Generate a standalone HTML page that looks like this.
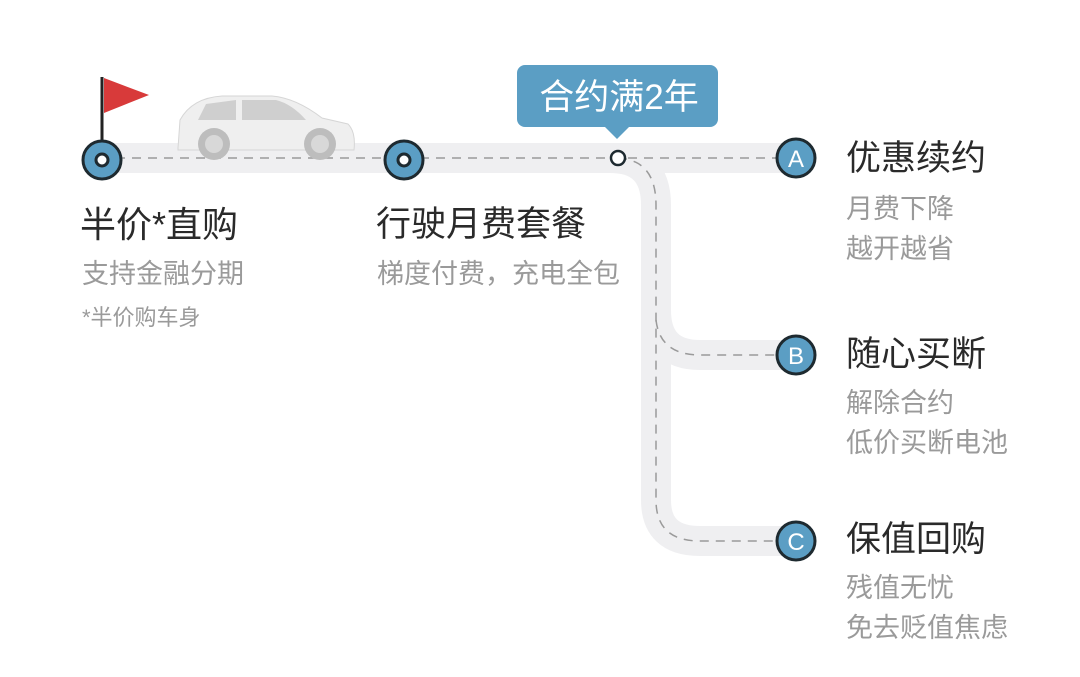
<!DOCTYPE html>
<html><head><meta charset="utf-8"><style>
body{margin:0;background:#fff;}
.w{position:relative;width:1080px;height:677px;overflow:hidden;font-family:"Liberation Sans","Noto Sans CJK SC",sans-serif;}
.t{position:absolute;color:#2a2a2a;font-size:35px;line-height:1;white-space:nowrap;}
.s{position:absolute;color:#9a9a9a;font-size:27px;line-height:1;white-space:nowrap;}
</style></head><body><div class="w">
<svg width="1080" height="677" style="position:absolute;left:0;top:0">
<g fill="none" stroke="#efeff1" stroke-width="30">
<path d="M100 158 H796"/>
<path d="M610 158 Q656 158 656 205 V500 Q656 541 700 541 H796"/>
<path d="M656 310 Q656 355 700 355 H796"/>
</g>
<g fill="none" stroke="#9a9a9a" stroke-width="1.5" stroke-dasharray="9 7">
<path d="M100 158 H796"/>
<path d="M618 158 Q656 160 656 205 V500 Q656 541 700 541 H796"/>
<path d="M656 320 Q660 355 700 355 H796"/>
</g>
<!-- car -->
<g>
<path d="M178 148 L180 120 Q192 98 222 96 L272 96 Q296 98 322 118 L348 124 Q356 132 354 150 L178 150 Z" fill="#efefef" stroke="#d6d6d6"/>
<path d="M206 104 L236 100 L236 120 L198 120 Z M242 100 L276 100 Q292 104 306 120 L242 120 Z" fill="#cfcfcf"/>
<circle cx="214" cy="144" r="16" fill="#bdbdbd"/><circle cx="214" cy="144" r="9" fill="#d8d8d8"/>
<circle cx="320" cy="144" r="16" fill="#bdbdbd"/><circle cx="320" cy="144" r="9" fill="#d8d8d8"/>
</g>
<!-- flag -->
<line x1="102" y1="77" x2="102" y2="142" stroke="#222" stroke-width="3"/>
<path d="M104 78 L149 95 L104 113 Z" fill="#d83a3a"/>
<g stroke="#1e2a30" stroke-width="3">
<circle cx="102" cy="160" r="19" fill="#5b9ec4"/><circle cx="102" cy="160" r="6" fill="#fff"/>
<circle cx="404" cy="160" r="19" fill="#5b9ec4"/><circle cx="404" cy="160" r="6" fill="#fff"/>
<circle cx="618" cy="158" r="7" fill="#fff" stroke-width="2.5"/>
<circle cx="796" cy="158" r="19" fill="#5b9ec4"/>
<circle cx="796" cy="355" r="19" fill="#5b9ec4"/>
<circle cx="796" cy="541" r="19" fill="#5b9ec4"/>
</g>
<g fill="#fff" font-family="Liberation Sans,sans-serif" font-size="24" text-anchor="middle">
<text x="796" y="167">A</text><text x="796" y="364">B</text><text x="796" y="550">C</text>
</g>
<rect x="517" y="65" width="201" height="62" rx="8" fill="#5b9ec4"/>
<path d="M604 126 L617 139 L630 126 Z" fill="#5b9ec4"/>
<text x="619" y="109" fill="#fff" font-size="35" text-anchor="middle" font-family="Liberation Sans,Noto Sans CJK SC,sans-serif">合约满2年</text>
</svg>
<div class="t" style="left:80px;top:207px;font-size:36px">半价*直购</div>
<div class="s" style="left:82px;top:261px">支持金融分期</div>
<div class="s" style="left:82px;top:307px;font-size:22px">*半价购车身</div>
<div class="t" style="left:376px;top:207px">行驶月费套餐</div>
<div class="s" style="left:377px;top:261px">梯度付费，充电全包</div>
<div class="t" style="left:846px;top:141px">优惠续约</div>
<div class="s" style="left:846px;top:196px">月费下降</div>
<div class="s" style="left:846px;top:236px">越开越省</div>
<div class="t" style="left:846px;top:337px">随心买断</div>
<div class="s" style="left:846px;top:390px">解除合约</div>
<div class="s" style="left:846px;top:430px">低价买断电池</div>
<div class="t" style="left:846px;top:522px">保值回购</div>
<div class="s" style="left:846px;top:575px">残值无忧</div>
<div class="s" style="left:846px;top:615px">免去贬值焦虑</div>
</div></body></html>
